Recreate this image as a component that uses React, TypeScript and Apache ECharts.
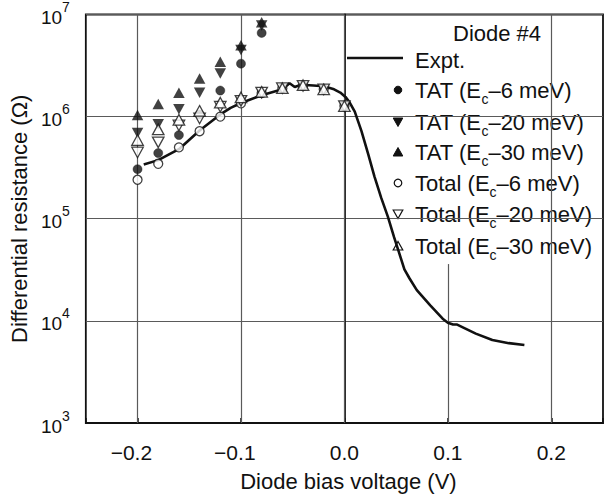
import React, { useEffect, useRef } from 'react';
import * as echarts from 'echarts';

// ---- data ----
const tatVoltage = [-0.2, -0.18, -0.16, -0.14, -0.12, -0.1, -0.08];
const totalVoltage = [-0.2, -0.18, -0.16, -0.14, -0.12, -0.1, -0.08, -0.06, -0.04, -0.02, 0.0];
const tat6 = [3.06e5, 4.4e5, 6.6e5, 1.05e6, 1.8e6, 3.3e6, 6.6e6];
const tat20 = [6.9e5, 8.4e5, 1.18e6, 1.71e6, 2.64e6, 4.5e6, 7.8e6];
const tat30 = [1.04e6, 1.33e6, 1.71e6, 2.36e6, 3.44e6, 5.0e6, 8.4e6];
const total6 = [2.41e5, 3.45e5, 5.0e5, 7.2e5, 1.0e6, 1.35e6, 1.7e6, 1.9e6, 2.0e6, 1.85e6, 1.27e6];
const total20 = [4.46e5, 5.6e5, 8.2e5, 9.6e5, 1.25e6, 1.43e6, 1.72e6, 1.9e6, 2.0e6, 1.85e6, 1.27e6];
const total30 = [5.9e5, 7.5e5, 9.3e5, 1.14e6, 1.37e6, 1.54e6, 1.75e6, 1.9e6, 2.03e6, 1.85e6, 1.27e6];

const exptVoltage = [
  -0.194, -0.18, -0.16, -0.14, -0.12, -0.11, -0.1, -0.08, -0.06, -0.053, -0.048, -0.042,
  -0.03, -0.02, -0.01, -0.004, 0.001, 0.005, 0.01, 0.0165, 0.023, 0.029, 0.0356, 0.042,
  0.048, 0.053, 0.058, 0.063, 0.07, 0.083, 0.095, 0.1, 0.105, 0.109, 0.115, 0.127, 0.143,
  0.159, 0.174,
];
const exptResistance = [
  3.4e5, 3.75e5, 4.8e5, 7.3e5, 1.05e6, 1.22e6, 1.36e6, 1.62e6, 1.85e6, 2.12e6, 1.95e6, 2.05e6,
  2.02e6, 1.98e6, 1.85e6, 1.72e6, 1.56e6, 1.38e6, 1.12e6, 7.2e5, 4.3e5, 2.6e5, 1.6e5, 1.05e5,
  6.6e4, 4.6e4, 3.2e4, 2.6e4, 2.0e4, 1.42e4, 1.05e4, 9.6e3, 9.2e3, 9.2e3, 8.6e3, 7.5e3, 6.5e3,
  6.05e3, 5.8e3,
];

const xTickValues = [-0.2, -0.1, 0.0, 0.1, 0.2];
const fullGridX = [-0.2, -0.1, 0.0, 0.2];
const partialGridX = 0.1;
const partialGridTop = 3.6e4;

const titleText = 'Diode #4';
const exptLabel = 'Expt.';
const legendLabels = [
  ['TAT (E', 'c', '–6 meV)'],
  ['TAT (E', 'c', '–20 meV)'],
  ['TAT (E', 'c', '–30 meV)'],
  ['Total (E', 'c', '–6 meV)'],
  ['Total (E', 'c', '–20 meV)'],
  ['Total (E', 'c', '–30 meV)'],
];
const xName = 'Diode bias voltage (V)';
const yName = 'Differential resistance (Ω)';

const FONT = "'Liberation Sans', Arial, Helvetica, sans-serif";
const INK = '#111';
const GRID = '#5a5a5a';
const DOWN_TRI = 'path://M0,0L20,0L10,18Z';

const pairs = (xs: number[], ys: number[]) => xs.map((x, i) => [x, ys[i]]);

export default function App() {
  const ref = useRef<HTMLDivElement>(null);

  useEffect(() => {
    if (!ref.current) return;
    const chart = echarts.init(ref.current, null, { renderer: 'svg' });

    const legendX = 398;
    const textX = 415;
    const rowY = [90, 122, 152, 183, 214, 246];
    const rich = {
      n: { fontSize: 22, fontFamily: FONT, fill: INK, color: INK, verticalAlign: 'top' },
      s: { fontSize: 14, fontFamily: FONT, color: INK, verticalAlign: 'top', padding: [13, 0, 0, 0] },
    };
    const markerEls: any[] = [];
    const mk = (i: number) => {
      const cy = rowY[i];
      const filled = i < 3;
      const style = filled
        ? { fill: INK, stroke: INK, lineWidth: 1 }
        : { fill: '#fff', stroke: INK, lineWidth: 1.2 };
      const kind = i % 3;
      if (kind === 0) return { type: 'circle', shape: { cx: legendX, cy, r: 3.8 }, style };
      if (kind === 1)
        return {
          type: 'polygon',
          shape: { points: [[legendX - 4.8, cy - 4], [legendX + 4.8, cy - 4], [legendX, cy + 4.5]] },
          style,
        };
      return {
        type: 'polygon',
        shape: { points: [[legendX - 4.8, cy + 4], [legendX + 4.8, cy + 4], [legendX, cy - 4.5]] },
        style,
      };
    };
    for (let i = 0; i < 6; i++) {
      markerEls.push(mk(i));
      markerEls.push({
        type: 'text',
        x: textX,
        y: rowY[i] - 11,
        style: {
          text: `{n|${legendLabels[i][0]}}{s|${legendLabels[i][1]}}{n|${legendLabels[i][2]}}`,
          rich,
          verticalAlign: 'top',
          fill: INK,
        },
      });
    }

    const option: any = {
      animation: false,
      backgroundColor: '#fff',
      textStyle: { fontFamily: FONT, color: INK },
      grid: {
        left: 80,
        top: 12,
        width: 529,
        height: 411,
        show: true,
        borderColor: INK,
        borderWidth: 1.8,
        backgroundColor: 'transparent',
        containLabel: false,
      },
      xAxis: {
        type: 'value',
        min: -0.25,
        max: 0.25,
        name: xName,
        nameLocation: 'middle',
        nameGap: 47,
        nameTextStyle: { fontSize: 22, fontFamily: FONT, color: INK, padding: [0, 0, 0, 8] },
        axisLine: { show: true, lineStyle: { color: INK, width: 1.8 } },
        axisTick: { show: true, inside: true, length: 5, lineStyle: { color: INK, width: 1.5 } },
        splitLine: { show: false },
        axisLabel: {
          margin: 19,
          fontSize: 21,
          fontFamily: FONT,
          color: INK,
          formatter: (v: number) => {
            const hit = xTickValues.find((t) => Math.abs(t - v) < 1e-9);
            if (hit === undefined) return '';
            if (hit < 0) return `{v|−${Math.abs(hit).toFixed(1)}}{sp|}`;
            return `{v|${hit.toFixed(1)}}`;
          },
          rich: {
            v: { fontSize: 21, fontFamily: FONT, color: INK },
            sp: { width: 12.3, fontSize: 21 },
          },
        },
      },
      yAxis: {
        type: 'log',
        logBase: 10,
        min: 1e3,
        max: 1e7,
        name: yName,
        nameLocation: 'middle',
        nameGap: 47,
        nameTextStyle: { fontSize: 22, fontFamily: FONT, color: INK },
        axisLine: { show: true, lineStyle: { color: INK, width: 1.8 } },
        axisTick: { show: false },
        splitLine: { show: true, lineStyle: { color: GRID, width: 1.2 } },
        axisLabel: {
          margin: 16,
          formatter: (v: number) => `{a|10}{b|${Math.round(Math.log10(v))}}`,
          rich: {
            a: { fontSize: 19, fontFamily: FONT, color: INK, verticalAlign: 'top', padding: [8, 0, 2, 0] },
            b: { fontSize: 14, fontFamily: FONT, color: INK, verticalAlign: 'top' },
          },
        },
      },
      series: [
        {
          name: 'Expt.',
          type: 'line',
          data: pairs(exptVoltage, exptResistance),
          symbol: 'none',
          z: 2,
          lineStyle: { color: INK, width: 2.6 },
          markLine: {
            silent: true,
            symbol: 'none',
            z: 1,
            label: { show: false },
            lineStyle: { color: GRID, width: 1.2, type: 'solid' },
            data: [
              ...fullGridX.map((x) => ({ xAxis: x })),
              [{ coord: [partialGridX, partialGridTop] }, { coord: [partialGridX, 1e3] }],
            ],
          },
        },
        {
          name: 'TAT (Ec–6 meV)',
          type: 'scatter',
          data: pairs(tatVoltage, tat6),
          symbol: 'circle',
          symbolSize: 9,
          z: 3,
          itemStyle: { color: INK, borderColor: INK, borderWidth: 0.5 },
        },
        {
          name: 'TAT (Ec–20 meV)',
          type: 'scatter',
          data: pairs(tatVoltage, tat20),
          symbol: DOWN_TRI,
          symbolSize: [11.5, 10.5],
          z: 3,
          itemStyle: { color: INK },
        },
        {
          name: 'TAT (Ec–30 meV)',
          type: 'scatter',
          data: pairs(tatVoltage, tat30),
          symbol: 'triangle',
          symbolSize: [11.5, 10.5],
          z: 3,
          itemStyle: { color: INK },
        },
        {
          name: 'Total (Ec–6 meV)',
          type: 'scatter',
          data: pairs(totalVoltage, total6),
          symbol: 'circle',
          symbolSize: 9,
          z: 4,
          itemStyle: { color: '#fff', borderColor: INK, borderWidth: 1.3 },
        },
        {
          name: 'Total (Ec–20 meV)',
          type: 'scatter',
          data: pairs(totalVoltage, total20),
          symbol: DOWN_TRI,
          symbolSize: [11.5, 10.5],
          z: 4,
          itemStyle: { color: '#fff', borderColor: INK, borderWidth: 1.3 },
        },
        {
          name: 'Total (Ec–30 meV)',
          type: 'scatter',
          data: pairs(totalVoltage, total30),
          symbol: 'triangle',
          symbolSize: [11.5, 10.5],
          z: 4,
          itemStyle: { color: '#fff', borderColor: INK, borderWidth: 1.3 },
        },
      ],
      graphic: [
        {
          type: 'group',
          z: 100,
          children: [
            {
              type: 'text',
              x: 453,
              y: 33,
              style: { text: titleText, fontSize: 22, fontFamily: FONT, fill: INK, verticalAlign: 'middle' },
            },
            {
              type: 'line',
              shape: { x1: 347, y1: 58, x2: 403, y2: 58 },
              style: { stroke: INK, lineWidth: 2.6 },
            },
            {
              type: 'text',
              x: textX,
              y: 60,
              style: { text: exptLabel, fontSize: 22, fontFamily: FONT, fill: INK, verticalAlign: 'middle' },
            },
            ...markerEls,
          ],
        },
      ],
    };

    chart.setOption(option);
    return () => chart.dispose();
  }, []);

  return (
    <div
      ref={ref}
      style={{ position: 'absolute', left: 0, top: 0, width: 606, height: 497, background: '#fff' }}
    />
  );
}
